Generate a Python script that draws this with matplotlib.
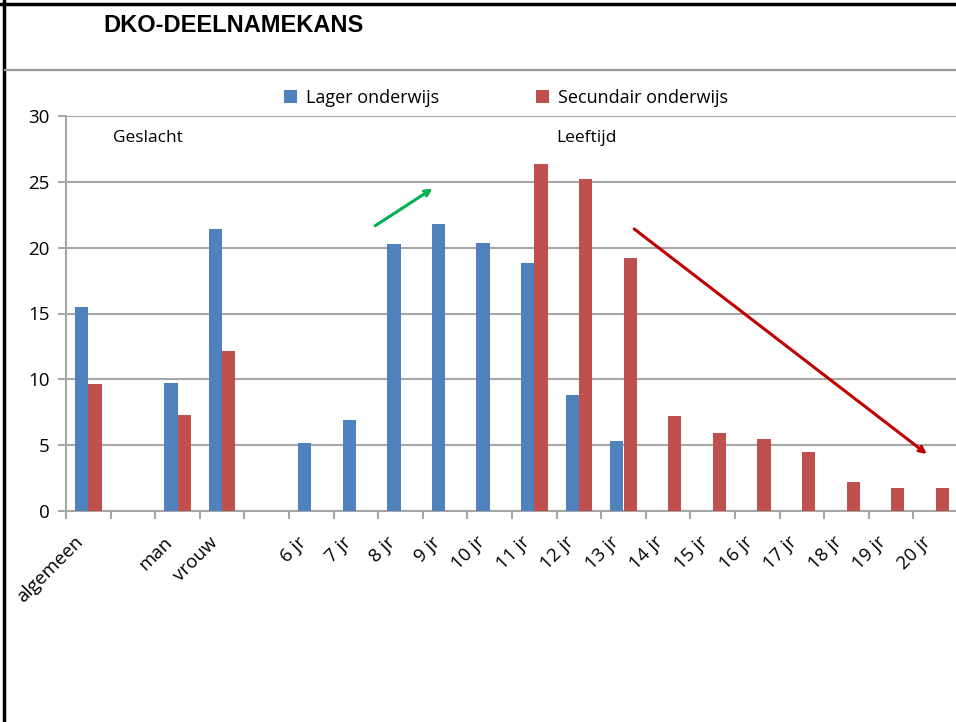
import matplotlib.pyplot as plt
import numpy as np
from matplotlib.lines import Line2D
from matplotlib.transforms import ScaledTranslation

# categories (empty strings are the spacer columns of the original sheet)
categories = ["algemeen", "", "man", "vrouw", "",
              "6 jr", "7 jr", "8 jr", "9 jr", "10 jr", "11 jr", "12 jr", "13 jr",
              "14 jr", "15 jr", "16 jr", "17 jr", "18 jr", "19 jr", "20 jr"]
lager = [15.5, 0, 9.7, 21.4, 0,
         5.2, 6.9, 20.3, 21.8, 20.35, 18.85, 8.8, 5.3,
         0, 0, 0, 0, 0, 0, 0]
secundair = [9.65, 0, 7.3, 12.15, 0,
             0, 0, 0, 0, 0, 26.35, 25.2, 19.2,
             7.2, 5.9, 5.45, 4.45, 2.2, 1.75, 1.75]

BLUE = "#4f81bd"
RED = "#c0504d"
GRID = "#a6a6a6"
FONT = "Open Sans"

fig = plt.figure(figsize=(9.56, 7.22), dpi=100)
ax = fig.add_axes([66 / 956, 211 / 722, 892 / 956, 395 / 722])

x = np.arange(len(categories))
w = 0.3
ax.bar(x - w / 2, lager, w, color=BLUE, label="Lager onderwijs", zorder=3)
ax.bar(x + w / 2, secundair, w, color=RED, label="Secundair onderwijs", zorder=3)

ax.set_xlim(-0.5, len(categories) - 0.5)
ax.set_ylim(0, 30)
ax.set_yticks(range(0, 31, 5))
ax.yaxis.grid(True, color=GRID, linewidth=1.5, zorder=0)
ax.set_axisbelow(True)

ax.set_xticks(x)
ax.set_xticklabels(categories, rotation=45, ha="right", rotation_mode="anchor",
                   fontsize=13.5, family=FONT)
ax.tick_params(axis="x", which="major", length=0, pad=16)
shift = ScaledTranslation(-14 / 100, 0, fig.dpi_scale_trans)
for lab in ax.get_xticklabels():
    lab.set_transform(lab.get_transform() + shift)
ax.set_xticks(np.arange(-0.5, len(categories), 1), minor=True)
ax.tick_params(axis="x", which="minor", length=6, color=GRID, width=1.5)
ax.tick_params(axis="y", length=6, color=GRID, width=1.5, labelsize=13.5, pad=6)
for lab in ax.get_yticklabels():
    lab.set_family(FONT)

for side in ["top", "right"]:
    ax.spines[side].set_visible(False)
for side in ["left", "bottom"]:
    ax.spines[side].set_color(GRID)
    ax.spines[side].set_linewidth(1.5)

ax.text(0.55, 28.3, "Geslacht", fontsize=12.5, family=FONT, va="center")
ax.text(10.5, 28.3, "Leeftijd", fontsize=12.5, family=FONT, va="center")

# trend arrows
ax.annotate("", xy=(7.77, 24.6), xytext=(6.38, 21.55),
            arrowprops=dict(arrowstyle="->", color="#00b050", lw=2.2), zorder=5)
ax.annotate("", xy=(18.85, 4.2), xytext=(12.19, 21.55),
            arrowprops=dict(arrowstyle="->", color="#c00000", lw=2.2), zorder=5)

fig.legend(loc="center", bbox_to_anchor=(506 / 956, 1 - 98 / 722), ncol=2,
           frameon=False, handlelength=0.7, handleheight=0.7, handletextpad=0.5,
           columnspacing=5.4, prop={"family": FONT, "size": 13})

fig.text(103 / 956, 1 - 26 / 722, "DKO-DEELNAMEKANS", fontsize=17, fontweight="bold",
         family="Liberation Sans", va="center")

# slide frame
fig.add_artist(Line2D([0, 1], [1 - 4 / 722] * 2, color="black", lw=2.5))
fig.add_artist(Line2D([4 / 956] * 2, [0, 1], color="black", lw=2.5))
fig.add_artist(Line2D([5 / 956, 1], [1 - 70 / 722] * 2, color="#9a9a9a", lw=1.6))

fig.savefig("out.png", dpi=100)
